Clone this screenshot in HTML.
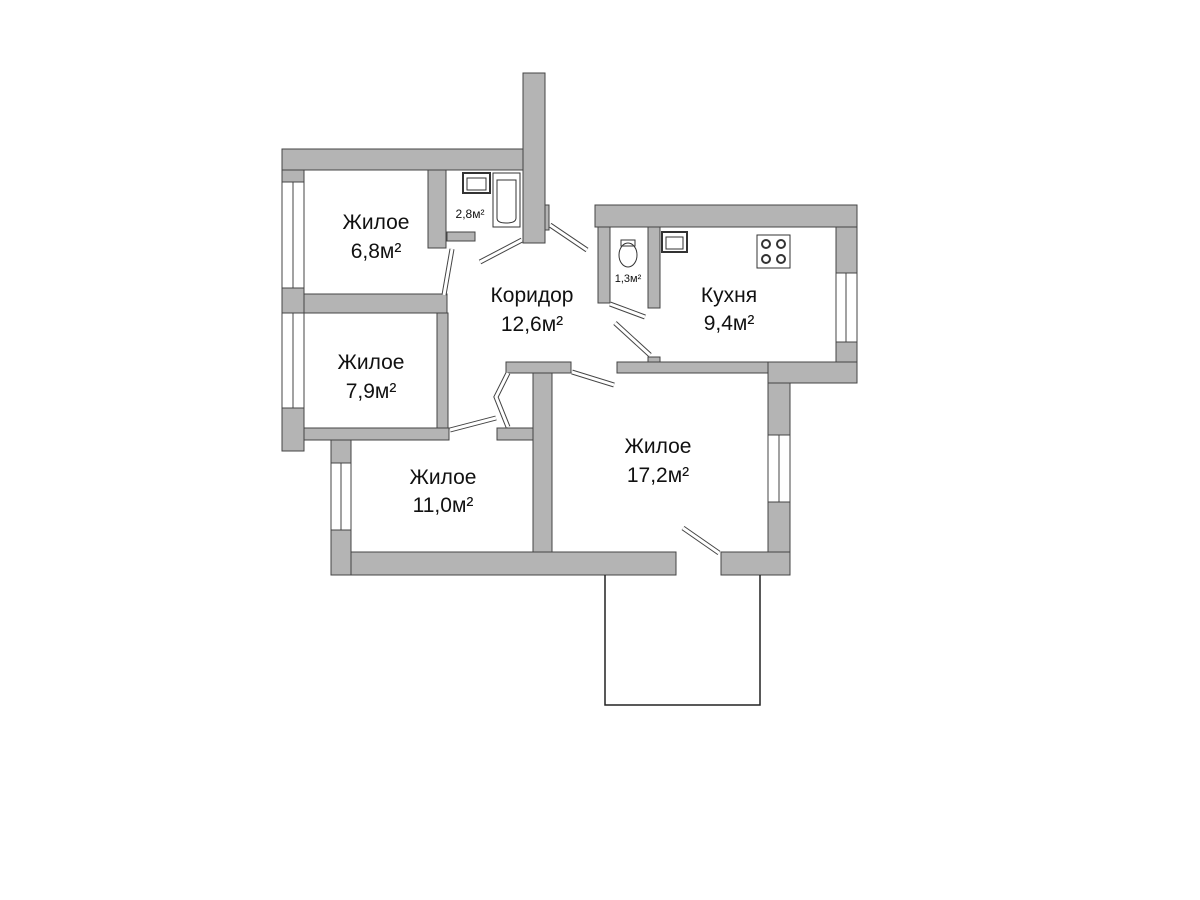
<!DOCTYPE html>
<html><head><meta charset="utf-8"><style>
html,body{margin:0;padding:0;background:#fff;width:1200px;height:900px;overflow:hidden}
text{font-family:"Liberation Sans",sans-serif;fill:#111;text-anchor:middle}
</style></head><body>
<svg width="1200" height="900" viewBox="0 0 1200 900" xmlns="http://www.w3.org/2000/svg">
<g fill="#b4b4b4" stroke="#444" stroke-width="1">
<rect x="282" y="149" width="243" height="21"/>
<rect x="523" y="73" width="22" height="170"/>
<rect x="282" y="170" width="22" height="12"/>
<rect x="282" y="288" width="22" height="25"/>
<rect x="282" y="408" width="22" height="43"/>
<rect x="428" y="170" width="18" height="78"/>
<rect x="447" y="232" width="28" height="9"/>
<rect x="304" y="294" width="143" height="19"/>
<rect x="437" y="313" width="11" height="115"/>
<rect x="304" y="428" width="145" height="12"/>
<rect x="331" y="440" width="20" height="23"/>
<rect x="331" y="530" width="20" height="45"/>
<rect x="351" y="552" width="325" height="23"/>
<rect x="721" y="552" width="69" height="23"/>
<rect x="768" y="362" width="22" height="73"/>
<rect x="768" y="502" width="22" height="50"/>
<rect x="506" y="362" width="65" height="11"/>
<rect x="533" y="373" width="19" height="179"/>
<rect x="497" y="428" width="36" height="12"/>
<rect x="617" y="362" width="151" height="11"/>
<rect x="648" y="357" width="12" height="5"/>
<rect x="595" y="205" width="262" height="22"/>
<rect x="836" y="227" width="21" height="46"/>
<rect x="836" y="342" width="21" height="20"/>
<rect x="768" y="362" width="89" height="21"/>
<rect x="598" y="227" width="12" height="76"/>
<rect x="648" y="227" width="12" height="81"/>
<rect x="545" y="205" width="4" height="25"/>
</g>
<g fill="#fff" stroke="#444" stroke-width="1">
<rect x="282" y="182" width="22" height="106"/><line x1="293" y1="182" x2="293" y2="288"/>
<rect x="282" y="313" width="22" height="95"/><line x1="293" y1="313" x2="293" y2="408"/>
<rect x="331" y="463" width="20" height="67"/><line x1="341" y1="463" x2="341" y2="530"/>
<rect x="768" y="435" width="22" height="67"/><line x1="779" y1="435" x2="779" y2="502"/>
<rect x="836" y="273" width="21" height="69"/><line x1="846" y1="273" x2="846" y2="342"/>
</g>
<g stroke="#444" stroke-width="5">
<line x1="522" y1="240" x2="480" y2="262"/>
<line x1="550" y1="225" x2="587" y2="250"/>
<line x1="452" y1="249" x2="444" y2="295"/>
<line x1="610" y1="304" x2="645" y2="317"/>
<line x1="615" y1="323" x2="650" y2="355"/>
<line x1="572" y1="372" x2="614" y2="385"/>
<line x1="450" y1="430" x2="496" y2="418"/>
<polyline points="508,373 496,397 508,427" fill="none"/>
<line x1="683" y1="528" x2="719" y2="553"/>
</g>
<g stroke="#fff" stroke-width="3" fill="none">
<line x1="522" y1="240" x2="480" y2="262"/>
<line x1="550" y1="225" x2="587" y2="250"/>
<line x1="452" y1="249" x2="444" y2="295"/>
<line x1="610" y1="304" x2="645" y2="317"/>
<line x1="615" y1="323" x2="650" y2="355"/>
<line x1="572" y1="372" x2="614" y2="385"/>
<line x1="450" y1="430" x2="496" y2="418"/>
<polyline points="508,373 496,397 508,427"/>
<line x1="683" y1="528" x2="719" y2="553"/>
</g>
<polyline points="605,575 605,705 760,705 760,575" fill="none" stroke="#222" stroke-width="1.5"/>
<g fill="none" stroke="#333" stroke-width="1">
<rect x="463" y="173" width="27" height="20" stroke-width="2"/><rect x="467" y="178" width="19" height="12"/>
<rect x="493" y="173" width="27" height="54"/><path d="M497,180 H516 V218 Q516,223 506,223 Q497,223 497,218 Z"/>
<ellipse cx="628" cy="255" rx="9" ry="12"/><path d="M621,240 H635 V246 H621 Z"/>
<rect x="662" y="232" width="25" height="20" stroke-width="2"/><rect x="666" y="237" width="17" height="12"/>
<rect x="757" y="235" width="33" height="33"/>
<circle cx="766" cy="244" r="4" stroke-width="2"/><circle cx="781" cy="244" r="4" stroke-width="2"/>
<circle cx="766" cy="259" r="4" stroke-width="2"/><circle cx="781" cy="259" r="4" stroke-width="2"/>
</g>
<g font-size="21">
<text x="376" y="229">Жилое</text><text x="376" y="258">6,8м²</text>
<text x="532" y="302">Коридор</text><text x="532" y="331">12,6м²</text>
<text x="729" y="302">Кухня</text><text x="729" y="330">9,4м²</text>
<text x="371" y="369">Жилое</text><text x="371" y="398">7,9м²</text>
<text x="443" y="484">Жилое</text><text x="443" y="512">11,0м²</text>
<text x="658" y="453">Жилое</text><text x="658" y="482">17,2м²</text>
</g>
<text x="470" y="218" font-size="12">2,8м²</text>
<text x="628" y="282" font-size="11">1,3м²</text>
</svg>
</body></html>
